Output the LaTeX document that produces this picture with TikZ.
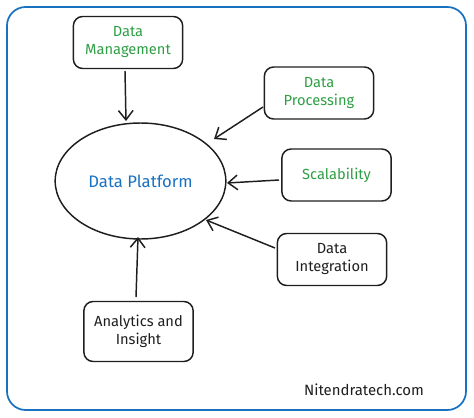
\documentclass[tikz,border=0pt]{standalone}
\usepackage{fontspec}
\setmainfont{Fira Sans}
\usetikzlibrary{arrows.meta,shapes.geometric}
\definecolor{xgreen}{HTML}{2F9E44}
\definecolor{xblue}{HTML}{1971C2}
\definecolor{xblack}{HTML}{1E1E1E}
\begin{document}
\begin{tikzpicture}[x=0.75pt,y=-0.75pt,
  card/.style={draw=xblack,line width=1.1pt,rounded corners=7pt,minimum width=82pt,minimum height=39pt,align=center,font=\fontsize{11}{13.5}\selectfont,inner sep=2pt},
  hub/.style={draw=xblack,line width=1.1pt,ellipse,minimum width=128pt,minimum height=87pt,font=\fontsize{12.5}{14}\selectfont},
  link/.style={draw=xblack,line width=1.1pt,-{Straight Barb[length=7pt,width=11pt,line width=1.1pt]}}]
\useasboundingbox (0,0) rectangle (474,417);
\draw[xblue,line width=1.3pt,rounded corners=14pt] (7,7) rectangle (466,410);
\node[hub,text=xblue] (plat) at (140.5,181) {Data Platform};
\node[card,text=xgreen] (dm) at (128,42.5) {Data\\Management};
\node[card,text=xgreen] (dp) at (319,93) {Data\\Processing};
\node[card,text=xgreen] (sc) at (336.5,175) {Scalability};
\node[card,text=xblack] (di) at (332,259.5) {Data\\Integration};
\node[card,text=xblack,minimum height=45pt] (ai) at (138.5,331.5) {Analytics and\\Insight};
\node[text=xblack,font=\fontsize{11.2}{12}\selectfont,inner sep=0pt] (site) at (364,390) {Nitendratech.com};
\coordinate (dmS) at (125,71);
\coordinate (plN) at (126,121);
\coordinate (dpW) at (263,107);
\coordinate (plNE) at (214,139);
\coordinate (scW) at (279,180);
\coordinate (plE) at (227,183);
\coordinate (diW) at (275,248);
\coordinate (plSE) at (206,220);
\coordinate (aiN) at (136,297);
\coordinate (plS) at (138,237);
\draw[link] (dmS) -- (plN);
\draw[link] (dpW) -- (plNE);
\draw[link] (scW) -- (plE);
\draw[link] (diW) -- (plSE);
\draw[link] (aiN) -- (plS);
\end{tikzpicture}
\end{document}
